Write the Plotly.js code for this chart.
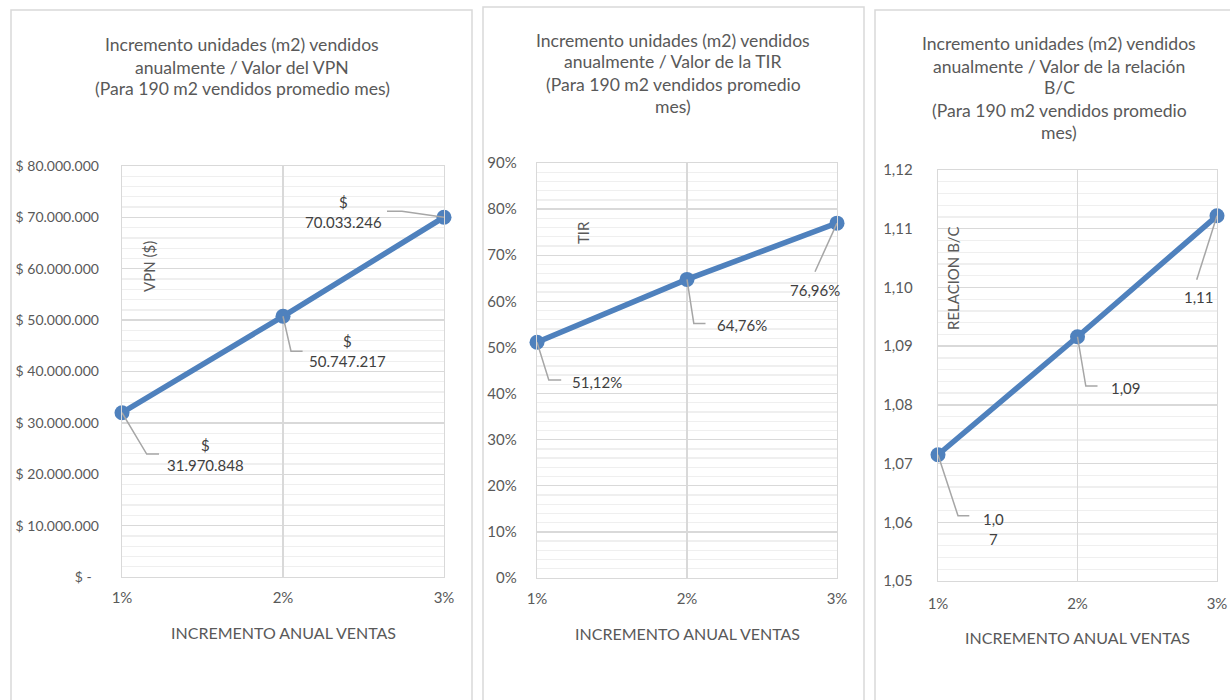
<!DOCTYPE html>
<html>
<head>
<meta charset="utf-8">
<script src="https://cdn.plot.ly/plotly-3.0.1.min.js"></script>
<style>
html,body{margin:0;padding:0;background:#fff;}
#chart{width:1230px;height:700px;}
</style>
</head>
<body>
<div id="chart"></div>
<script>
// ---------------- data ----------------
const xVals = [1, 2, 3];
const xTickText = ["1%", "2%", "3%"];
const xTitle = "INCREMENTO ANUAL VENTAS";

const vpnValues = [31970848, 50747217, 70033246];
const vpnLabels = ["$<br>31.970.848", "$<br>50.747.217", "$<br>70.033.246"];
const vpnTickVals = [0, 10000000, 20000000, 30000000, 40000000, 50000000, 60000000, 70000000, 80000000];
const vpnTickText = ["$ -\u00A0\u00A0", "$ 10.000.000", "$ 20.000.000", "$ 30.000.000", "$ 40.000.000", "$ 50.000.000", "$ 60.000.000", "$ 70.000.000", "$ 80.000.000"];
const vpnTitle = ["Incremento unidades (m2) vendidos", "anualmente / Valor del VPN", "(Para 190 m2 vendidos promedio mes)"];
const vpnYTitle = "VPN ($)";

const tirValues = [51.12, 64.76, 76.96];
const tirLabels = ["51,12%", "64,76%", "76,96%"];
const tirTickVals = [0, 10, 20, 30, 40, 50, 60, 70, 80, 90];
const tirTickText = ["0%", "10%", "20%", "30%", "40%", "50%", "60%", "70%", "80%", "90%"];
const tirTitle = ["Incremento unidades (m2) vendidos", "anualmente / Valor de la TIR", "(Para 190 m2 vendidos promedio", "mes)"];
const tirYTitle = "TIR";

const bcValues = [1.0715, 1.0916, 1.1122];
const bcLabels = ["1,0<br>7", "1,09", "1,11"];
const bcTickVals = [1.05, 1.06, 1.07, 1.08, 1.09, 1.10, 1.11, 1.12];
const bcTickText = ["1,05", "1,06", "1,07", "1,08", "1,09", "1,10", "1,11", "1,12"];
const bcTitle = ["Incremento unidades (m2) vendidos", "anualmente / Valor de la relación", "B/C", "(Para 190 m2 vendidos promedio", "mes)"];
const bcYTitle = "RELACION B/C";

// ---------------- styling ----------------
const W = 1230, H = 700;
const FONT = "Lato, 'Open Sans', sans-serif";
const TXT = "#595959";
const LBL = "#404040";
const BLUE = "rgb(79,129,189)";
const GRID = "#D9D9D9";
const MINOR = "#EFEFEF";
const LEAD = "#A6A6A6";
const px = v => v / W;
const py = v => 1 - v / H;

const panels = [
  {vals: vpnValues, labels: vpnLabels, tv: vpnTickVals, tt: vpnTickText, range: [0, 80000000], minor: 2000000,
   title: vpnTitle, ytitle: vpnYTitle, tickSize: 14,
   plot: {l: 122, r: 444, t: 166, b: 577}, titleX: 242, titleY0: 45, standoff: 19,
   xTickY: 601, xTitleY: 632, yTitlePos: [149, 267],
   border: {l: 11, r: 472, t: 10},
   lab: [[83, -42], [64, -35], [-101, 5]],
   lead: ["M0,0 L24.7,-41.3 L37,-41.3", "M0,0 L8,-35 L19.6,-35", "M0,0 L-42,6 L-57,6"]},
  {vals: tirValues, labels: tirLabels, tv: tirTickVals, tt: tirTickText, range: [0, 90], minor: 2,
   title: tirTitle, ytitle: tirYTitle, tickSize: 15,
   plot: {l: 537, r: 837, t: 163, b: 578}, titleX: 673, titleY0: 40, standoff: 16,
   xTickY: 602, xTitleY: 633, yTitlePos: [583, 233],
   border: {l: 483, r: 864, t: 7},
   lab: [[60, -40], [55, -46], [-22, -67]],
   lead: ["M0,0 L11.8,-37.7 L24.2,-37.7", "M0,0 L6.8,-44 L18.5,-44", "M0,0 L-22,-48.6"]},
  {vals: bcValues, labels: bcLabels, tv: bcTickVals, tt: bcTickText, range: [1.05, 1.12], minor: 0.002,
   title: bcTitle, ytitle: bcYTitle, tickSize: 15,
   plot: {l: 938, r: 1217, t: 170, b: 581}, titleX: 1059, titleY0: 44, standoff: 21,
   xTickY: 607, xTitleY: 637, yTitlePos: [953, 278],
   border: {l: 875, r: 1245, t: 10},
   lab: [[55, -74], [48, -51], [-18, -81]],
   lead: ["M0,0 L20,-61 L31.3,-61", "M0,0 L8.3,-49.3 L20,-49.3", "M0,0 L-20.3,-64"]}
];

const data = [];
const layout = {
  width: W, height: H,
  margin: {l: 0, r: 0, t: 0, b: 0},
  paper_bgcolor: "#fff", plot_bgcolor: "#fff",
  showlegend: false,
  font: {family: FONT, color: TXT, size: 14},
  annotations: [], shapes: []
};

panels.forEach((p, i) => {
  const n = i + 1;
  const xa = "x" + (n === 1 ? "" : n), ya = "y" + (n === 1 ? "" : n);
  const xk = "xaxis" + (n === 1 ? "" : n), yk = "yaxis" + (n === 1 ? "" : n);
  data.push({
    type: "scatter", mode: "lines+markers", x: xVals, y: p.vals,
    xaxis: xa, yaxis: ya,
    line: {color: BLUE, width: 5.5},
    marker: {color: BLUE, size: 15},
    hoverinfo: "skip", cliponaxis: false
  });
  layout[xk] = {
    domain: [px(p.plot.l), px(p.plot.r)], anchor: ya,
    range: [1, 3], tickvals: xVals, ticktext: xTickText,
    showgrid: true, gridcolor: GRID, gridwidth: 1.3,
    showline: true, linecolor: GRID, linewidth: 1.3, mirror: true,
    zeroline: false, ticks: "outside", ticklen: p.xTickY - p.plot.b - 17, tickcolor: "rgba(0,0,0,0)",
    tickfont: {family: FONT, size: 15, color: TXT}, fixedrange: true
  };
  layout[yk] = {
    domain: [py(p.plot.b), py(p.plot.t)], anchor: xa,
    range: p.range, tickvals: p.tv, ticktext: p.tt,
    showgrid: true, gridcolor: GRID, gridwidth: 1.3,
    minor: {dtick: p.minor, tick0: p.range[0], showgrid: true, gridcolor: MINOR, gridwidth: 1.3, ticks: ""},
    showline: true, linecolor: GRID, linewidth: 1.3, mirror: true,
    zeroline: false, ticks: "outside", ticklen: p.standoff, tickcolor: "rgba(0,0,0,0)",
    tickfont: {family: FONT, size: p.tickSize, color: TXT}, fixedrange: true
  };
  // panel border
  layout.shapes.push({type: "rect", xref: "paper", yref: "paper",
    x0: px(p.border.l), x1: px(p.border.r), y0: -0.05, y1: py(p.border.t),
    line: {color: GRID, width: 1.5}, layer: "below"});
  // titles (one line each)
  p.title.forEach((t, k) => {
    layout.annotations.push({xref: "paper", yref: "paper", x: px(p.titleX), y: py(p.titleY0 + k * 22),
      text: t, showarrow: false, xanchor: "center", yanchor: "middle",
      font: {family: FONT, size: 17.6, color: TXT}});
  });
  // x title
  layout.annotations.push({xref: "paper", yref: "paper", x: px((p.plot.l + p.plot.r) / 2), y: py(p.xTitleY),
    text: xTitle, showarrow: false, xanchor: "center", yanchor: "middle",
    font: {family: FONT, size: 16, color: TXT}});
  // y title
  layout.annotations.push({xref: "paper", yref: "paper", x: px(p.yTitlePos[0]), y: py(p.yTitlePos[1]),
    text: p.ytitle, showarrow: false, textangle: -90, xanchor: "center", yanchor: "middle",
    font: {family: FONT, size: 15, color: TXT}});
  // data labels and leader lines
  xVals.forEach((xv, j) => {
    layout.annotations.push({xref: xa, yref: ya, x: xv, y: p.vals[j],
      text: p.labels[j], showarrow: false, xanchor: "center", yanchor: "middle",
      xshift: p.lab[j][0], yshift: p.lab[j][1],
      font: {family: FONT, size: 15, color: LBL}});
    layout.shapes.push({type: "path", xref: xa, yref: ya,
      xsizemode: "pixel", ysizemode: "pixel", xanchor: xv, yanchor: p.vals[j],
      path: p.lead[j], line: {color: LEAD, width: 1.5}, layer: "above"});
  });
});

Plotly.newPlot("chart", data, layout, {displayModeBar: false, staticPlot: true});
</script>
</body>
</html>
